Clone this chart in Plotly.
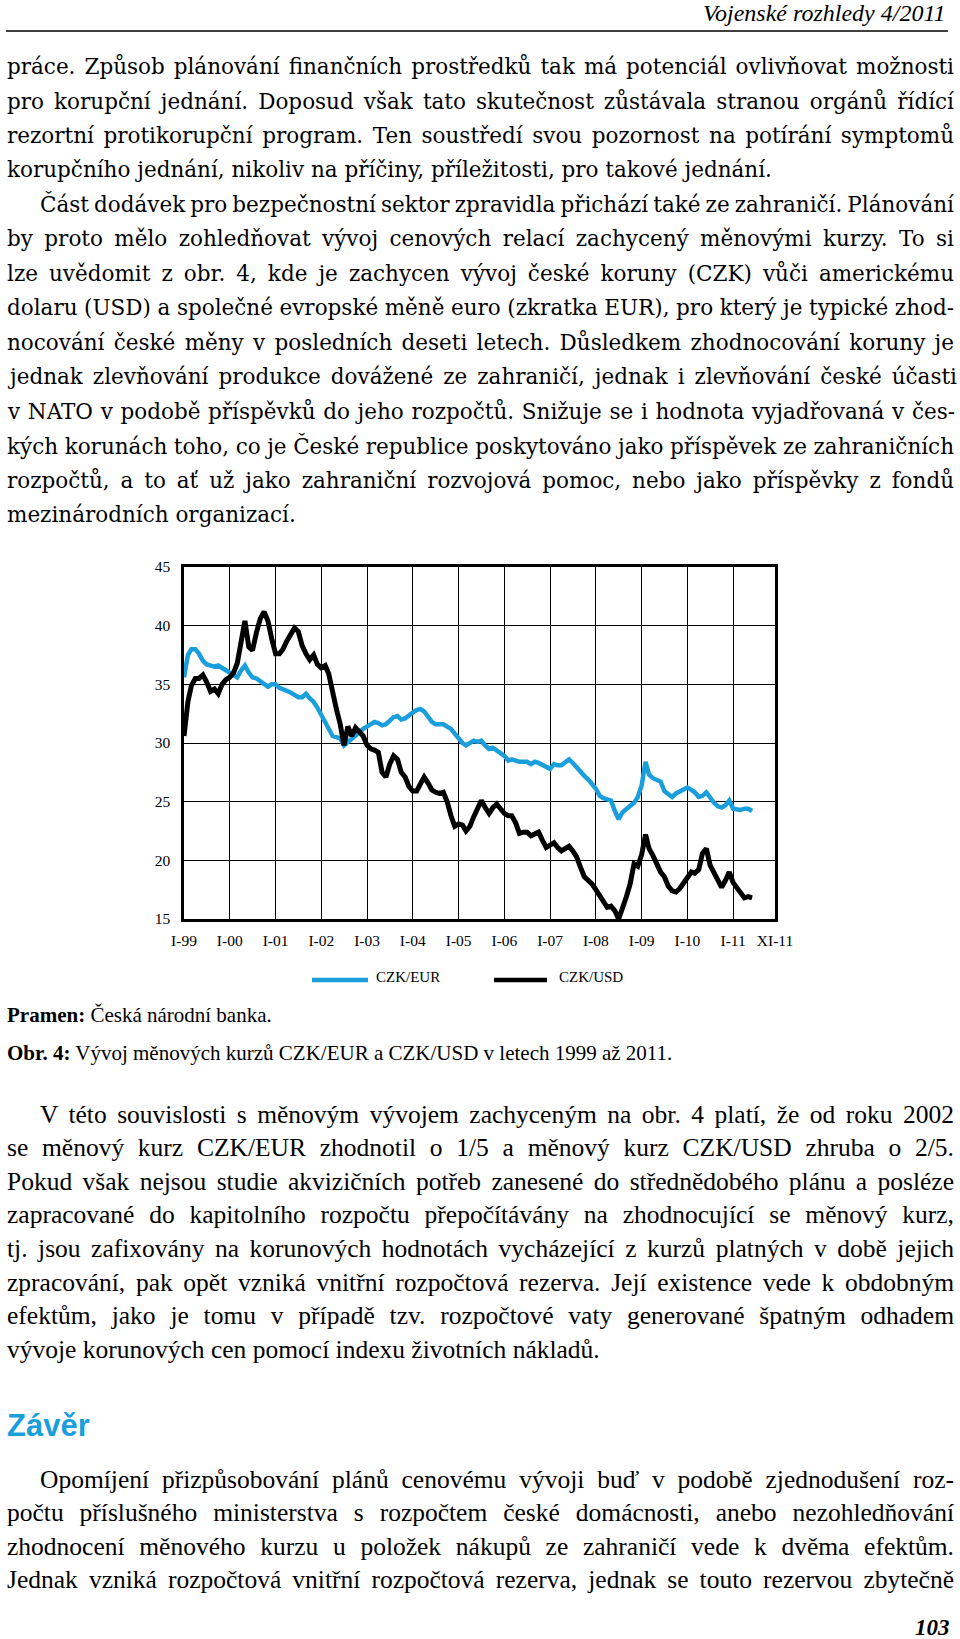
import json
import pandas as pd
import plotly.graph_objects as go

# ---------------- data ----------------
start_month = "1999-01-01"
czk_eur = [35.6, 37.5, 38.0, 38.0, 37.6, 37.0, 36.7, 36.6, 36.5, 36.6, 36.4, 36.1,
           36.0, 35.8, 35.6, 36.2, 36.6, 36.0, 35.6, 35.5, 35.3, 35.1, 34.8, 35.0,
           35.0, 34.7, 34.6, 34.5, 34.3, 34.1, 33.9, 33.9, 34.2, 33.8, 33.5, 33.0,
           32.4, 31.8, 31.3, 30.6, 30.5, 30.4, 29.8, 30.1, 30.4, 30.6, 30.9, 31.2,
           31.4, 31.6, 31.8, 31.7, 31.5, 31.6, 31.9, 32.2, 32.3, 32.0, 32.1, 32.4,
           32.6, 32.8, 32.9, 32.7, 32.3, 31.8, 31.6, 31.6, 31.6, 31.4, 31.2, 30.8,
           30.4, 30.0, 29.8, 30.0, 30.2, 30.1, 30.2, 29.8, 29.5, 29.6, 29.4, 29.1,
           28.9, 28.5, 28.6, 28.5, 28.4, 28.4, 28.4, 28.2, 28.4, 28.3, 28.1, 27.9,
           27.8, 28.2, 28.1, 28.1, 28.3, 28.6, 28.3, 27.9, 27.6, 27.2, 26.9, 26.5,
           26.1, 25.5, 25.3, 25.2, 25.1, 24.2, 23.5, 24.1, 24.4, 24.7, 24.9, 25.4,
           26.4, 28.4, 27.3, 27.0, 26.8, 26.7, 25.9, 25.6, 25.4, 25.7, 25.9, 26.0,
           26.2, 26.0, 25.8, 25.4, 25.5, 25.8, 25.3, 24.9, 24.6, 24.5, 24.7, 25.1,
           24.4, 24.3, 24.3, 24.4, 24.4, 24.2]
czk_usd = [30.6, 33.5, 34.9, 35.5, 35.5, 35.8, 35.2, 34.4, 34.6, 34.2, 35.0, 35.4,
           35.6, 36.0, 36.8, 38.5, 40.4, 38.2, 37.9, 39.4, 40.6, 41.2, 40.4, 38.9,
           37.6, 37.6, 38.0, 38.7, 39.3, 39.8, 39.5, 38.3, 37.6, 37.1, 37.5, 36.7,
           36.4, 36.6, 35.9, 34.2, 32.9, 31.6, 29.8, 31.4, 30.6, 31.3, 30.9, 30.6,
           29.8, 29.5, 29.4, 29.2, 27.5, 27.1, 28.2, 28.9, 28.6, 27.5, 27.1, 26.3,
           25.9, 25.9, 26.5, 27.1, 26.6, 26.0, 25.8, 25.7, 25.8, 25.0, 23.8, 22.9,
           23.1, 23.0, 22.5, 22.9, 23.7, 24.4, 25.1, 24.5, 24.0, 24.5, 24.8, 24.4,
           24.0, 23.8, 23.8, 23.2, 22.3, 22.4, 22.4, 22.1, 22.3, 22.4, 21.7, 21.1,
           21.3, 21.5, 21.1, 20.8, 21.0, 21.2, 20.8, 20.3, 19.4, 18.6, 18.3, 18.0,
           17.5, 17.0, 16.6, 16.0, 16.1, 15.7, 15.0, 15.9, 16.9, 18.0, 19.7, 19.5,
           20.5, 22.2, 21.0, 20.4, 19.6, 19.0, 18.6, 17.8, 17.4, 17.3, 17.6, 18.1,
           18.5, 19.0, 18.9, 19.2, 20.6, 21.0, 19.6, 19.0, 18.4, 17.7, 18.3, 19.0,
           18.1, 17.6, 17.2, 16.8, 16.9, 16.8]
series_names = ["CZK/EUR", "CZK/USD"]
x_tick_dates = ["1999-01-01", "2000-01-01", "2001-01-01", "2002-01-01", "2003-01-01",
                "2004-01-01", "2005-01-01", "2006-01-01", "2007-01-01", "2008-01-01",
                "2009-01-01", "2010-01-01", "2011-01-01", "2011-12-01"]
x_tick_labels = ["I-99", "I-00", "I-01", "I-02", "I-03", "I-04", "I-05", "I-06",
                 "I-07", "I-08", "I-09", "I-10", "I-11", "XI-11"]
y_ticks = [15, 20, 25, 30, 35, 40, 45]

# ---------------- page text ----------------
header_text = "Vojenské rozhledy 4/2011"
para1 = [
    ("práce. Způsob plánování finančních prostředků tak má potenciál ovlivňovat možnosti", 0, True),
    ("pro korupční jednání. Doposud však tato skutečnost zůstávala stranou orgánů řídící", 0, True),
    ("rezortní protikorupční program. Ten soustředí svou pozornost na potírání symptomů", 0, True),
    ("korupčního jednání, nikoliv na příčiny, příležitosti, pro takové jednání.", 0, False),
    ("Část dodávek pro bezpečnostní sektor zpravidla přichází také ze zahraničí. Plánování", 1, True),
    ("by proto mělo zohledňovat vývoj cenových relací zachycený měnovými kurzy. To si", 0, True),
    ("lze uvědomit z obr. 4, kde je zachycen vývoj české koruny (CZK) vůči americkému", 0, True),
    ("dolaru (USD) a společné evropské měně euro (zkratka EUR), pro který je typické zhod-", 0, True),
    ("nocování české měny v posledních deseti letech. Důsledkem zhodnocování koruny je", 0, True),
    ("jednak zlevňování produkce dovážené ze zahraničí, jednak i zlevňování české účasti", 0, True),
    ("v NATO v podobě příspěvků do jeho rozpočtů. Snižuje se i hodnota vyjadřovaná v čes-", 0, True),
    ("kých korunách toho, co je České republice poskytováno jako příspěvek ze zahraničních", 0, True),
    ("rozpočtů, a to ať už jako zahraniční rozvojová pomoc, nebo jako příspěvky z fondů", 0, True),
    ("mezinárodních organizací.", 0, False),
]
para2 = [
    ("V této souvislosti s měnovým vývojem zachyceným na obr. 4 platí, že od roku 2002", 1, True),
    ("se měnový kurz CZK/EUR zhodnotil o 1/5 a měnový kurz CZK/USD zhruba o 2/5.", 0, True),
    ("Pokud však nejsou studie akvizičních potřeb zanesené do střednědobého plánu a posléze", 0, True),
    ("zapracované do kapitolního rozpočtu přepočítávány na zhodnocující se měnový kurz,", 0, True),
    ("tj. jsou zafixovány na korunových hodnotách vycházející z kurzů platných v době jejich", 0, True),
    ("zpracování, pak opět vzniká vnitřní rozpočtová rezerva. Její existence vede k obdobným", 0, True),
    ("efektům, jako je tomu v případě tzv. rozpočtové vaty generované špatným odhadem", 0, True),
    ("vývoje korunových cen pomocí indexu životních nákladů.", 0, False),
]
heading = "Závěr"
para3 = [
    ("Opomíjení přizpůsobování plánů cenovému vývoji buď v podobě zjednodušení roz-", 1, True),
    ("počtu příslušného ministerstva s rozpočtem české domácnosti, anebo nezohledňování", 0, True),
    ("zhodnocení měnového kurzu u položek nákupů ze zahraničí vede k dvěma efektům.", 0, True),
    ("Jednak vzniká rozpočtová vnitřní rozpočtová rezerva, jednak se touto rezervou zbytečně", 0, True),
]
source_text = "<b>Pramen:</b> Česká národní banka."
caption_text = "<b>Obr. 4:</b> Vývoj měnových kurzů CZK/EUR a CZK/USD v letech 1999 až 2011."
page_number = "<b><i>103</i></b>"

# ---------------- layout helpers ----------------
W, H = 960, 1639
PL, PR, PT, PB = 184, 775, 567, 919


def px(x):
    return x / W


def py(y):
    return 1 - y / H


EUR_COLOR = "#1a9fdc"
SERIF = "Liberation Serif"

dates = pd.date_range(start_month, periods=len(czk_eur), freq="MS")

fig = go.Figure()
fig.add_trace(go.Scatter(x=dates, y=czk_eur, mode="lines", name=series_names[0],
                         line=dict(color=EUR_COLOR, width=4.5)))
fig.add_trace(go.Scatter(x=dates, y=czk_usd, mode="lines", name=series_names[1],
                         line=dict(color="black", width=5)))

annotations = []
justify = []
LEFT, RIGHT, INDENT = 6, 953, 39


def add_line(text, x, y, size, family, justify_it, color="black"):
    idx = len(annotations)
    annotations.append(dict(text=text, x=px(x), y=py(y), xref="paper", yref="paper",
                            xanchor="left", yanchor="middle", align="left",
                            showarrow=False, borderpad=0,
                            font=dict(size=size, family=family, color=color)))
    if justify_it:
        justify.append([idx, RIGHT - x])


# paragraph 1
y0, dy = 66, 34.5
for i, (t, ind, j) in enumerate(para1):
    add_line(t, INDENT if ind else LEFT, y0 + i * dy, 21.5, "DejaVu Serif", j)

# paragraph 2
y0, dy = 1114, 33.6
for i, (t, ind, j) in enumerate(para2):
    add_line(t, INDENT if ind else LEFT, y0 + i * dy, 25.5, SERIF, j)

# heading
add_line("<b>" + heading + "</b>", LEFT, 1425, 31, "Liberation Sans", False, EUR_COLOR)

# paragraph 3
y0, dy = 1479, 33.5
for i, (t, ind, j) in enumerate(para3):
    add_line(t, INDENT if ind else LEFT, y0 + i * dy, 25.5, SERIF, j)

# source & caption
add_line(source_text, LEFT, 1015, 21, SERIF, False)
add_line(caption_text, LEFT, 1053, 21, SERIF, False)

# header
annotations.append(dict(text="<i>" + header_text + "</i>", x=px(948), y=py(13),
                        xref="paper", yref="paper", xanchor="right", yanchor="middle",
                        showarrow=False, font=dict(size=24, family=SERIF, color="black")))
# page number
annotations.append(dict(text=page_number, x=px(952), y=py(1627),
                        xref="paper", yref="paper", xanchor="right", yanchor="middle",
                        showarrow=False, font=dict(size=23, family=SERIF, color="black")))

# legend (manual)
legend_items = [(312, 368, 374, EUR_COLOR, series_names[0]),
                (494, 547, 557, "black", series_names[1])]
shapes = [dict(type="line", xref="paper", yref="paper", x0=px(6), x1=px(948),
               y0=py(31), y1=py(31), line=dict(color="black", width=1.5))]
for x0, x1, xt, col, name in legend_items:
    shapes.append(dict(type="line", xref="paper", yref="paper", x0=px(x0), x1=px(x1),
                       y0=py(980), y1=py(980), line=dict(color=col, width=4.5)))
    annotations.append(dict(text=name, x=px(xt), y=py(977), xref="paper", yref="paper",
                            xanchor="left", yanchor="middle", showarrow=False,
                            font=dict(size=15, family=SERIF, color="black")))

fig.update_layout(
    width=W, height=H,
    margin=dict(l=0, r=0, t=0, b=0, pad=0, autoexpand=False),
    paper_bgcolor="white", plot_bgcolor="white",
    showlegend=False,
    annotations=annotations,
    shapes=shapes,
    xaxis=dict(domain=[px(PL), px(PR)], type="date", automargin=False,
               range=["1999-01-01", "2011-12-01"],
               tickmode="array", tickvals=x_tick_dates, ticktext=x_tick_labels,
               showgrid=True, gridcolor="black", gridwidth=1.3,
               showline=True, linecolor="black", linewidth=2.5, mirror=True,
               ticks="", ticklabelstandoff=6, zeroline=False,
               tickfont=dict(size=15.5, family=SERIF, color="black")),
    yaxis=dict(domain=[py(PB), py(PT)], range=[15, 45], automargin=False,
               tickmode="array", tickvals=y_ticks,
               showgrid=True, gridcolor="black", gridwidth=1.3,
               showline=True, linecolor="black", linewidth=2.5, mirror=True,
               ticks="", ticklabelstandoff=8, zeroline=False,
               tickfont=dict(size=15.5, family=SERIF, color="black")),
)

js = """
document.body.style.margin = '0';
document.body.style.padding = '0';
document.body.style.overflow = 'hidden';
var gd = document.getElementById('{plot_id}');
var J = """ + json.dumps(justify) + """;
J.forEach(function(p){
  var g = gd.querySelector('g.annotation[data-index="' + p[0] + '"]');
  if (!g) return;
  var t = g.querySelector('text.annotation-text');
  if (!t) return;
  var L = t.getComputedTextLength();
  var s = (t.textContent.match(/ /g) || []).length;
  if (s > 0) { t.style.wordSpacing = ((p[1] - L) / s) + 'px'; }
});
"""

fig.write_html("out.html", post_script=js, config={"displayModeBar": False})
